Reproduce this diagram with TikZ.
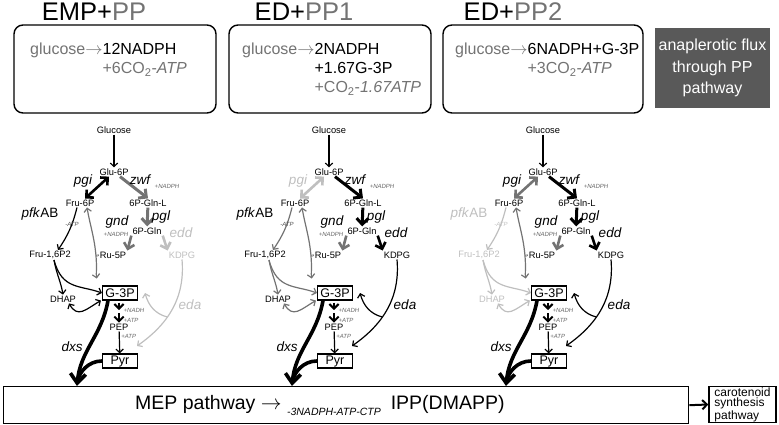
\documentclass[tikz,border=0pt]{standalone}
\usepackage{fontspec}
\setmainfont{Liberation Sans}
\usetikzlibrary{arrows.meta,positioning}

\colorlet{dk}{black}
\colorlet{md}{black!55}
\colorlet{lt}{black!25}

\tikzset{
  met/.style={font=\fontsize{9.3}{10}\selectfont, inner sep=1pt},
  enz/.style={font=\fontsize{13.5}{14}\selectfont\itshape, inner sep=0pt},
  cof/.style={font=\fontsize{6}{7}\selectfont\itshape, text=black!60, inner sep=0.5pt},
  boxmet/.style={draw, line width=1.1pt, font=\fontsize{12.5}{13}\selectfont, minimum width=35pt, minimum height=14pt, inner sep=0pt},
  resbox/.style={draw, line width=1.4pt, rounded corners=9pt, minimum width=202pt, minimum height=88pt},
  boxtext/.style={anchor=north west, inner sep=0pt, font=\fontsize{16}{19}\selectfont, text=md},
  paneltitle/.style={anchor=base, font=\fontsize{25.5}{28}\selectfont},
}

\begin{document}
\begin{tikzpicture}[x=1pt, y=1pt, >={Straight Barb[length=2pt 1.3,width=4.5pt 2.4]}]
        \useasboundingbox (0,0) rectangle (779,-425);
        % draw titles
        \node[paneltitle] at (94,-21) {EMP+\textcolor{md}{PP}};
        \node[paneltitle] at (304,-21) {ED+\textcolor{md}{PP1}};
        \node[paneltitle] at (513,-21) {ED+\textcolor{md}{PP2}};
        % draw balance boxes
        \node[resbox] (box1) at (115,-69) {};
        \node[resbox] (box2) at (330,-69) {};
        \node[resbox, minimum width=200pt] (box3) at (543,-69) {};
        \node[boxtext] at (30,-41) {\begin{tabular}{@{}l@{}l@{}}glucose$\rightarrow$&\color{black}12NADPH\\ &+6CO\textsubscript{2}-\textit{ATP}\end{tabular}};
        \node[boxtext] at (242,-41) {\begin{tabular}{@{}l@{}l@{}}glucose$\rightarrow$&\color{black}2NADPH\\ &\color{black}+1.67G-3P\\ &+CO\textsubscript{2}-\textit{1.67ATP}\end{tabular}};
        \node[boxtext] at (455,-41) {\begin{tabular}{@{}l@{}l@{}}glucose$\rightarrow$&\color{black}6NADPH+G-3P\\ &+3CO\textsubscript{2}-\textit{ATP}\end{tabular}};
        \node[fill=black!65, minimum width=115pt, minimum height=80pt, text=white, align=center, font=\fontsize{16}{21.5}\selectfont] (flux) at (712.5,-68) {anaplerotic flux\\through PP\\pathway};
        % draw the three pathways
        \foreach \p/\dx/\cpgi/\lpgi/\czwf/\cedd/\cpfk/\lpfk/\cemp/\ldhap/\ceda in {
            a/0/dk/dk/md/lt/dk/dk/dk/dk/lt,
            b/215/lt/lt/dk/dk/md/dk/md/dk/dk,
            c/429/md/dk/dk/dk/lt/lt/lt/lt/dk}{
          % metabolites
          \node[met] (\p-gluc) at (\dx+114,-130) {Glucose};
          \node[met] (\p-g6p) at (\dx+114,-172) {Glu-6P};
          \node[met] (\p-f6p) at (\dx+80,-203) {Fru-6P};
          \node[met] (\p-gl6p) at (\dx+148,-203) {6P-Gln-L};
          \node[met] (\p-pgn) at (\dx+147,-231) {6P-Gln};
          \node[met, text=\lpfk] (\p-fbp) at (\dx+50,-255) {Fru-1,6P2};
          \node[met] (\p-ru5p) at (\dx+113,-255) {Ru-5P};
          \node[met, text=\cedd] (\p-kdpg) at (\dx+182,-255) {KDPG};
          \node[met, text=\ldhap] (\p-dhap) at (\dx+63,-299) {DHAP};
          \node[boxmet] (\p-g3p) at (\dx+120,-293) {G-3P};
          \node[met] (\p-pep) at (\dx+119,-327) {PEP};
          \node[boxmet] (\p-pyr) at (\dx+120,-361) {Pyr};
          \coordinate (\p-tk) at (\dx+96,-256);
          \coordinate (\p-nadh) at (\dx+119,-310);
          \coordinate (\p-edaend) at (\dx+137,-346);
          \coordinate (\p-mep) at (\dx+77,-386);
          % upper part
          \draw[->, line width=1.2pt] (\p-gluc) -- (\p-g6p);
          \draw[<->, line width=2.6pt, draw=\cpgi] ([xshift=-5pt]\p-g6p.south) -- ([xshift=5pt]\p-f6p.north);
          \node[enz, text=\lpgi] at (\dx+83,-181) {pgi};
          \draw[->, line width=3pt, draw=\czwf] ([xshift=6pt]\p-g6p.south) -- (\p-gl6p.north);
          \node[enz] at (\dx+140,-180) {zwf};
          \node[cof] at (\dx+167,-186) {+NADPH};
          \draw[->, line width=3pt, draw=\czwf] (\p-gl6p) -- (\p-pgn);
          \node[enz] at (\dx+161,-217) {pgl};
          \draw[->, line width=2.6pt, draw=md] (\p-pgn.south west) -- (\p-ru5p.north east);
          \node[enz] at (\dx+117,-222) {gnd};
          \node[cof] at (\dx+116,-234) {+NADPH};
          \draw[->, line width=2.6pt, draw=\cedd] (\p-pgn.south east) -- (\p-kdpg.north west);
          \node[enz, text=\cedd] at (\dx+181,-233) {edd};
          \draw[->, line width=1.2pt, draw=\cpfk] ([xshift=-3pt]\p-f6p.south) to[bend left=10] ([xshift=8pt]\p-fbp.north);
          \node[enz, text=\lpfk] at (\dx+40,-214) {pfk\textup{AB}};
          \node[cof, text=\lpfk!60!lt] at (\dx+72,-224) {-ATP};
          % Ru-5P back to Fru-6P and G-3P
          \draw[line width=2pt, draw=md, dash pattern=on 0.7pt off 0.7pt] (\p-ru5p.west) -- (\p-tk);
          \draw[<->, line width=1.2pt, draw=md, shorten >=7pt] ([xshift=7pt]\p-f6p.south) to[out=-80,in=95] (\p-tk) to[out=-85,in=100] ([xshift=-4pt]\p-g3p.north west);
          % Fru-1,6P2 and DHAP
          \draw[->, line width=1.2pt, draw=\cemp] ([xshift=4pt]\p-fbp.south) to[out=-80,in=100] (\p-dhap.north);
          \draw[->, line width=1.2pt, draw=\cemp] ([xshift=4pt]\p-fbp.south) .. controls (\dx+62,-290) and (\dx+80,-285) .. (\p-g3p.west);
          \draw[<->, line width=1.2pt, draw=\cemp] ([xshift=6pt]\p-dhap.south) to[out=-60,in=-150,looseness=1.4] ([xshift=-1pt]\p-g3p.south west);
          % lower part
          \draw[->, line width=2pt, shorten <=2pt] ([xshift=-1pt]\p-g3p.south) -- (\p-nadh);
          \draw[->, line width=2pt, shorten <=3pt] (\p-nadh) -- (\p-pep.north);
          \node[cof, anchor=west] at (\dx+123,-310) {+NADH};
          \node[cof, anchor=west] at (\dx+123,-320) {+ATP};
          \draw[->, line width=1.2pt] (\p-pep) -- node[cof, pos=0.25, right=1pt] {+ATP} (\p-pyr);
          % eda
          \draw[->, line width=1.2pt, draw=\ceda] (\p-kdpg.south) to[out=-85,in=35] coordinate[pos=0.6] (\p-split) (\p-edaend);
          \draw[->, line width=1.2pt, draw=\ceda] (\p-split) to[out=165,in=-75] ([xshift=7pt]\p-g3p.east);
          \node[enz, text=\ceda] at (\dx+190,-305) {eda};
          % dxs
          \draw[-{Straight Barb[length=4pt 1.5,width=6pt 2.6]}, line width=3.6pt] ([xshift=-12pt]\p-g3p.south) to[out=-100,in=85] node[enz, pos=0.55, left=5pt] {dxs} (\p-mep);
          \draw[line width=3.6pt, shorten >=6pt] (\p-pyr.west) to[out=180,in=80] (\p-mep);
        }
        % draw MEP pathway
        \node[draw, line width=1.4pt, minimum width=685pt, minimum height=37pt, anchor=north west] (mepbox) at (3,-386) {};
        \node[anchor=base west, inner sep=0pt, font=\fontsize{19.5}{22}\selectfont] at (135,-409) {MEP pathway $\rightarrow$ \raisebox{-6pt}{\fontsize{10.5}{12}\selectfont\itshape -3NADPH-ATP-CTP}\hspace{10pt}IPP(DMAPP)};
        \node[draw, line width=1.4pt, minimum width=67pt, minimum height=35pt, align=left, inner sep=1pt, font=\fontsize{12}{10.8}\selectfont] (caro) at (742.5,-404.5) {carotenoid\\synthesis\\pathway};
        \draw[->, line width=2pt] (mepbox.east) -- (caro.west);
      \end{tikzpicture}
\end{document}
